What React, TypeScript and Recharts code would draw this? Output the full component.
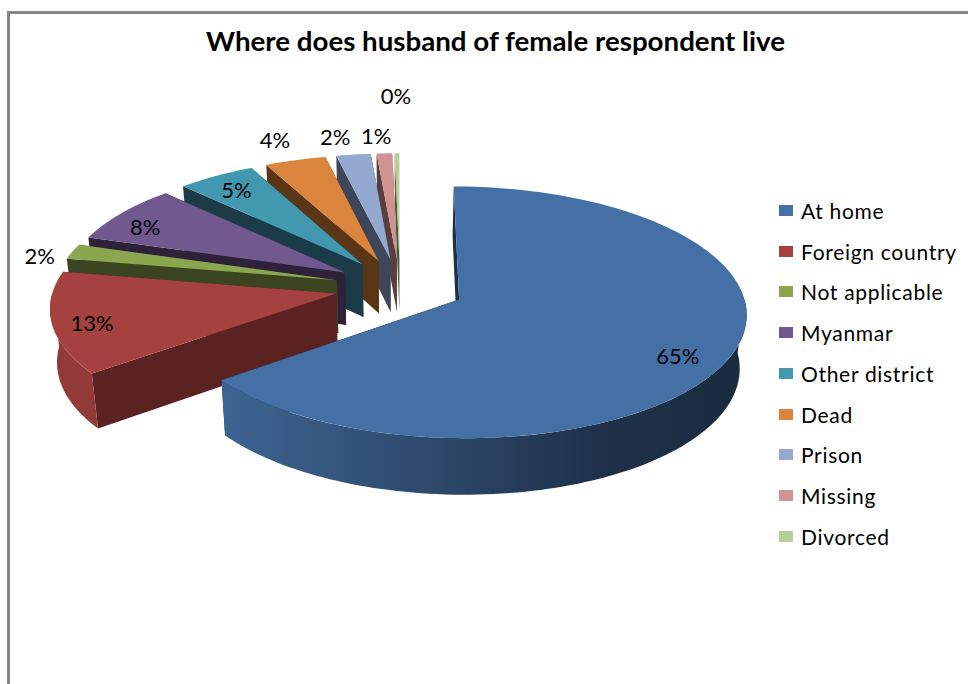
import React from "react";
import { PieChart, Pie, Legend } from "recharts";

// Survey categories, in reading order (clockwise from twelve o'clock).
const categories = [
  "At home",
  "Foreign country",
  "Not applicable",
  "Myanmar",
  "Other district",
  "Dead",
  "Prison",
  "Missing",
  "Divorced",
];
const shares = [64.6, 13.3, 2.0, 7.7, 5.0, 3.9, 2.2, 1.0, 0.3];

// Top surface and cut-face colours of each slice.
const topColors = ["#4570A5", "#A5423F", "#8AA64F", "#71588F", "#4198AF", "#DB843D", "#93A9CF", "#D19392", "#B9CD96"];
const faceColors = ["#1B2F4A", "#5A2321", "#3A4421", "#2E2139", "#1A3B47", "#5A3617", "#3B4659", "#5A3E3E", "#4A5A38"];

// Where each percentage sits: distance from the slice tip, and a small turn off its bisector.
const labelReach = [0.842, 0.865, 1.104, 0.855, 0.845, 1.238, 1.205, 1.195, 1.626];
const labelTurn = [-4.4, 1.75, 3.3, 3.2, 0.2, 0.5, 2.2, 1.2, 0];

// The slices are painted back to front, so the table runs counter-clockwise from the top.
const table = categories
  .map((name, i) => ({
    name,
    value: shares[i],
    fill: topColors[i],
    face: faceColors[i],
    reach: labelReach[i],
    turn: labelTurn[i],
  }))
  .reverse();

const WIDTH = 968;
const HEIGHT = 684;
const CENTER_X = 400;
const CENTER_Y = 287;
const RADIUS = 282.5;
const FONT = "Lato, 'Open Sans', sans-serif";

// View of the tilted disc.
const SQUASH = 0.432; // vertical / horizontal radius on the picture plane
const FORESHORTEN = 0.1; // how much far points shrink
const EXPLODE = 0.231; // slice pull-out, in radii
const THICKNESS = 53; // disc height in pixels
const BASE_SHRINK = 0.98; // the underside is further from the eye

const rad = (deg: number) => (deg * Math.PI) / 180;

type Pt = [number, number];

// Projects a point on the disc's plane (radius = 1) to the screen.
function project(px: number, py: number, cx: number, cy: number, r: number): Pt {
  const s = 1 / (1 + FORESHORTEN * py);
  return [cx + r * px * s, cy - r * SQUASH * py * s];
}

// The same point, on the underside of the disc.
function lower(px: number, py: number, cx: number, cy: number, r: number): Pt {
  const s = 1 / (1 + FORESHORTEN * py);
  const [x, y] = project(px, py, cx, cy, r);
  return [cx + (x - cx) * BASE_SHRINK, cy + (y - cy) * BASE_SHRINK + THICKNESS * s];
}

const toPath = (pts: Pt[]) =>
  "M" + pts.map(([x, y]) => `${x.toFixed(2)},${y.toFixed(2)}`).join("L") + "Z";

// Points along an arc of a slice whose tip is at (ox, oy).
function arc(ox: number, oy: number, from: number, to: number): Pt[] {
  const steps = Math.max(2, Math.ceil(Math.abs(to - from) / 1.5));
  const out: Pt[] = [];
  for (let i = 0; i <= steps; i++) {
    const a = rad(from + ((to - from) * i) / steps);
    out.push([ox + Math.cos(a), oy + Math.sin(a)]);
  }
  return out;
}

function shade(hex: string, k: number) {
  const n = parseInt(hex.slice(1), 16);
  const c = [(n >> 16) & 255, (n >> 8) & 255, n & 255].map((v) => Math.round(v * k));
  return `rgb(${c[0]},${c[1]},${c[2]})`;
}

function Slice3D(props: any) {
  const { cx, cy, outerRadius: r, startAngle, endAngle, midAngle, fill, face, name } = props;
  const id = `wall-${String(name).replace(/\s+/g, "-")}`;
  const ox = EXPLODE * Math.cos(rad(midAngle));
  const oy = EXPLODE * Math.sin(rad(midAngle));
  const rim = arc(ox, oy, startAngle, endAngle);
  const top = [project(ox, oy, cx, cy, r), ...rim.map(([x, y]) => project(x, y, cx, cy, r))];

  const faceAt = (a: number) => {
    const ex = ox + Math.cos(rad(a));
    const ey = oy + Math.sin(rad(a));
    return toPath([
      project(ox, oy, cx, cy, r),
      project(ex, ey, cx, cy, r),
      lower(ex, ey, cx, cy, r),
      lower(ox, oy, cx, cy, r),
    ]);
  };

  // Only the part of the rim on the near half of the disc shows its outer wall.
  const lo = Math.max(startAngle, 180);
  const hi = Math.min(endAngle, 360);
  let wall = "";
  if (hi > lo) {
    const front = arc(ox, oy, lo, hi);
    wall = toPath([
      ...front.map(([x, y]) => project(x, y, cx, cy, r)),
      ...front.slice().reverse().map(([x, y]) => lower(x, y, cx, cy, r)),
    ]);
  }

  return (
    <g>
      <defs>
        <linearGradient id={id} gradientUnits="userSpaceOnUse" x1={232} x2={748} y1={0} y2={0}>
          <stop offset="0" stopColor={shade(fill, 0.88)} />
          <stop offset="0.44" stopColor={shade(fill, 0.62)} />
          <stop offset="0.7" stopColor={shade(fill, 0.45)} />
          <stop offset="1" stopColor={shade(fill, 0.38)} />
        </linearGradient>
      </defs>
      <path d={faceAt(startAngle)} fill={face} />
      <path d={faceAt(endAngle)} fill={face} />
      {wall && <path d={wall} fill={`url(#${id})`} />}
      <path d={toPath(top)} fill={fill} />
    </g>
  );
}

function SliceLabel(props: any) {
  const { cx, cy, outerRadius: r, midAngle, percent, reach, turn } = props;
  const ox = EXPLODE * Math.cos(rad(midAngle));
  const oy = EXPLODE * Math.sin(rad(midAngle));
  const a = rad(midAngle + turn);
  const [x, y] = project(ox + reach * Math.cos(a), oy + reach * Math.sin(a), cx, cy, r);
  return (
    <text x={x} y={y} textAnchor="middle" dominantBaseline="central" fontFamily={FONT} fontSize={22} fill="#000">
      {`${Math.round(percent * 100)}%`}
    </text>
  );
}

function LegendList({ payload }: any) {
  const rows = (payload ?? [])
    .slice()
    .sort((a: any, b: any) => categories.indexOf(a.value) - categories.indexOf(b.value));
  return (
    <div style={{ fontFamily: FONT, fontSize: 21, color: "#000" }}>
      {rows.map((row: any) => (
        <div key={row.value} style={{ display: "flex", alignItems: "center", height: 40.75 }}>
          <span style={{ width: 14, height: 11, background: row.color, marginRight: 8, flex: "none" }} />
          <span style={{ whiteSpace: "nowrap", letterSpacing: 0.7 }}>{row.value}</span>
        </div>
      ))}
    </div>
  );
}

export default function App() {
  return (
    <div style={{ position: "absolute", left: 0, top: 0, width: WIDTH, height: HEIGHT, background: "#fff", overflow: "hidden" }}>
      <div
        style={{
          position: "absolute",
          left: 7,
          top: 11,
          right: 0,
          bottom: 0,
          borderLeft: "3px solid #868686",
          borderTop: "3px solid #868686",
        }}
      />
      <div style={{ position: "absolute", left: 0, top: 0 }}>
        <PieChart width={WIDTH} height={HEIGHT} margin={{ top: 0, right: 0, bottom: 0, left: 0 }}>
          <text
            x={495.5}
            y={41}
            textAnchor="middle"
            dominantBaseline="central"
            fontFamily={FONT}
            fontWeight={700}
            fontSize={26}
            textLength={579}
            lengthAdjust="spacingAndGlyphs"
            fill="#000"
          >
            Where does husband of female respondent live
          </text>
          <Pie
            data={table}
            dataKey="value"
            nameKey="name"
            cx={CENTER_X}
            cy={CENTER_Y}
            outerRadius={RADIUS}
            startAngle={90}
            endAngle={450}
            stroke="none"
            isAnimationActive={false}
            shape={Slice3D}
            label={SliceLabel}
            labelLine={false}
          />
          <Legend
            layout="vertical"
            align="right"
            verticalAlign="top"
            content={LegendList}
            wrapperStyle={{ left: 779, top: 190, width: 185, right: "auto" }}
          />
        </PieChart>
      </div>
    </div>
  );
}
